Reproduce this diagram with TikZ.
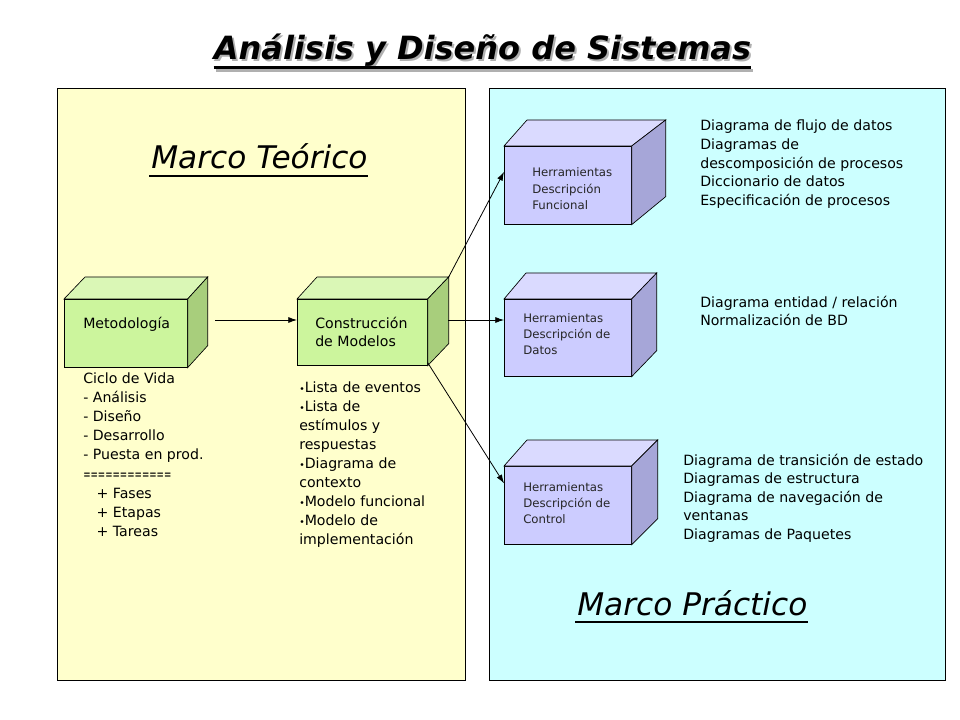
\documentclass[tikz,border=0pt]{standalone}
\usepackage{fontspec}
\setmainfont{DejaVu Sans}
\usetikzlibrary{arrows.meta,calc}
\definecolor{panelY}{HTML}{FFFFCC}
\definecolor{panelC}{HTML}{CCFFFF}
\definecolor{gFront}{HTML}{CCF59D}
\definecolor{gTop}{HTML}{DAF7B6}
\definecolor{gSide}{HTML}{A8CE7C}
\definecolor{pFront}{HTML}{CCCCFF}
\definecolor{pTop}{HTML}{DADAFF}
\definecolor{pSide}{HTML}{A6A6D8}
\definecolor{shadowgray}{HTML}{B0B0B0}
\tikzset{
  x=0.75pt, y=-0.75pt,
  panel/.style={draw=black, line width=0.8pt},
  face/.style={draw=black, line width=0.5pt},
  frontbox/.style={face, inner sep=0pt, anchor=north west},
  lst/.style={anchor=base west, inner sep=0pt, font=\fontsize{10.6}{13.9}\selectfont},
  boxtxt/.style={anchor=base west, inner sep=0pt, font=\fontsize{10.6}{14.2}\selectfont},
  herrtxt/.style={anchor=base west, inner sep=0pt, text=black!85, font=\fontsize{8.8}{12.2}\selectfont},
  marco/.style={anchor=base west, inner sep=0pt, font=\fontsize{23.4}{27}\selectfont\itshape},
  arr/.style={line width=0.6pt, -{Latex[length=6.5pt,width=4.5pt]}},
}
\newcommand{\lines}[2]{\parbox[t]{#1}{\raggedright #2}}
\newcommand{\bul}{{\fontsize{7}{8}\selectfont\textbullet}}
\begin{document}
\begin{tikzpicture}
\useasboundingbox (0,0) rectangle (960,720);
\fill[white] (0,0) rectangle (960,720);

% panels
\node[panel, fill=panelY, inner sep=0pt, anchor=north west, minimum width=306pt, minimum height=444pt] (pl) at (57,88) {};
\node[panel, fill=panelC, inner sep=0pt, anchor=north west, minimum width=342pt, minimum height=444pt] (pr) at (489,88) {};

% title with shadow
\node[anchor=base, inner sep=0pt, text=shadowgray, font=\fontsize{24}{28}\selectfont\bfseries\itshape] (titsh) at (484.5,61.5) {Análisis y Diseño de Sistemas};
\draw[shadowgray, line width=2pt] ($(titsh.base west)+(0,9)$) -- ($(titsh.base east)+(0,9)$);
\node[anchor=base, inner sep=0pt, font=\fontsize{24}{28}\selectfont\bfseries\itshape] (tit) at (482.5,59.5) {Análisis y Diseño de Sistemas};
\draw[black, line width=2pt] ($(tit.base west)+(0,8)$) -- ($(tit.base east)+(0,8)$);

% Marco titles
\node[marco] (mt) at (151,169) {Marco Teórico};
\draw[line width=1.6pt] ($(mt.base west)+(-2,7)$) -- ($(mt.base east)+(0,7)$);
\node[marco] (mp) at (577,615) {Marco Práctico};
\draw[line width=1.6pt] ($(mp.base west)+(-2,7)$) -- ($(mp.base east)+(0,7)$);

% ---------- cuboids ----------
% Metodologia
\node[frontbox, fill=gFront, minimum width=92.25pt, minimum height=51pt] (met) at (64,299) {};
\filldraw[face, fill=gTop] (met.north west) -- ++(21,-22) -- ([shift={(20,-22)}]met.north east) -- (met.north east) -- cycle;
\filldraw[face, fill=gSide] (met.north east) -- ([shift={(20,-22)}]met.north east) -- ([shift={(20,-22)}]met.south east) -- (met.south east) -- cycle;
% Construccion
\node[frontbox, fill=gFront, minimum width=97.5pt, minimum height=49.5pt] (con) at (297,299) {};
\filldraw[face, fill=gTop] (con.north west) -- ++(20,-22) -- ([shift={(21,-22)}]con.north east) -- (con.north east) -- cycle;
\filldraw[face, fill=gSide] (con.north east) -- ([shift={(21,-22)}]con.north east) -- ([shift={(21,-22)}]con.south east) -- (con.south east) -- cycle;
\coordinate (conTR) at ([shift={(21,-22)}]con.north east);
% Funcional
\node[frontbox, fill=pFront, minimum width=95.25pt, minimum height=58.5pt] (fun) at (504,146) {};
\filldraw[face, fill=pTop] (fun.north west) -- ++(23,-26) -- ([shift={(34,-26)}]fun.north east) -- (fun.north east) -- cycle;
\filldraw[face, fill=pSide] (fun.north east) -- ([shift={(34,-26)}]fun.north east) -- ([shift={(34,-28)}]fun.south east) -- (fun.south east) -- cycle;
% Datos
\node[frontbox, fill=pFront, minimum width=95.25pt, minimum height=57.75pt] (dat) at (504,299) {};
\filldraw[face, fill=pTop] (dat.north west) -- ++(22,-26) -- ([shift={(25,-26)}]dat.north east) -- (dat.north east) -- cycle;
\filldraw[face, fill=pSide] (dat.north east) -- ([shift={(25,-26)}]dat.north east) -- ([shift={(25,-26)}]dat.south east) -- (dat.south east) -- cycle;
% Control
\node[frontbox, fill=pFront, minimum width=95.25pt, minimum height=58.5pt] (ctl) at (504,466) {};
\filldraw[face, fill=pTop] (ctl.north west) -- ++(23,-26) -- ([shift={(26,-26)}]ctl.north east) -- (ctl.north east) -- cycle;
\filldraw[face, fill=pSide] (ctl.north east) -- ([shift={(26,-26)}]ctl.north east) -- ([shift={(26,-26)}]ctl.south east) -- (ctl.south east) -- cycle;

% box texts
\node[boxtxt] (metT) at (83,328) {Metodología};
\node[boxtxt] (conT) at (315,328) {\lines{4cm}{Construcción\\de Modelos}};
\node[herrtxt] (funT) at (532,177) {\lines{4cm}{Herramientas\\Descripción\\Funcional}};
\node[herrtxt] (datT) at (523,322) {\lines{4cm}{Herramientas\\Descripción de\\Datos}};
\node[herrtxt] (ctlT) at (523,491) {\lines{4cm}{Herramientas\\Descripción de\\Control}};

% lists
\node[lst, font=\fontsize{10.6}{14.4}\selectfont] (ciclo) at (83,383) {\lines{6cm}{Ciclo de Vida\\- Análisis\\- Diseño\\- Desarrollo\\- Puesta en prod.\\\scalebox{0.62}[1]{============}\\\hspace*{10pt}+ Fases\\\hspace*{10pt}+ Etapas\\\hspace*{10pt}+ Tareas}};
\node[lst, font=\fontsize{10.6}{14.25}\selectfont] (mods) at (299,392) {\lines{5cm}{\bul Lista de eventos\\\bul Lista de\\estímulos y\\respuestas\\\bul Diagrama de\\contexto\\\bul Modelo funcional\\\bul Modelo de\\implementación}};
\node[lst] (funL) at (700,131) {\lines{7cm}{Diagrama de flujo de datos\\Diagramas de\\descomposición de procesos\\Diccionario de datos\\Especificación de procesos}};
\node[lst] (datL) at (700,307) {\lines{7cm}{Diagrama entidad / relación\\Normalización de BD}};
\node[lst] (ctlL) at (683,465) {\lines{7cm}{Diagrama de transición de estado\\Diagramas de estructura\\Diagrama de navegación de\\ventanas\\Diagramas de Paquetes}};

% connectors
\coordinate (a1) at (215,320);
\draw[arr] (a1) -- (a1 -| con.west);
\coordinate (a2) at (448,320);
\draw[arr] (a2) -- (a2 -| dat.west);
\draw[arr] (conTR) -- ($(fun.north west)!0.33!(fun.south west)$);
\draw[arr] ([shift={(0,-3)}]con.south east) -- ($(ctl.north west)!0.22!(ctl.south west)$);
\end{tikzpicture}
\end{document}
